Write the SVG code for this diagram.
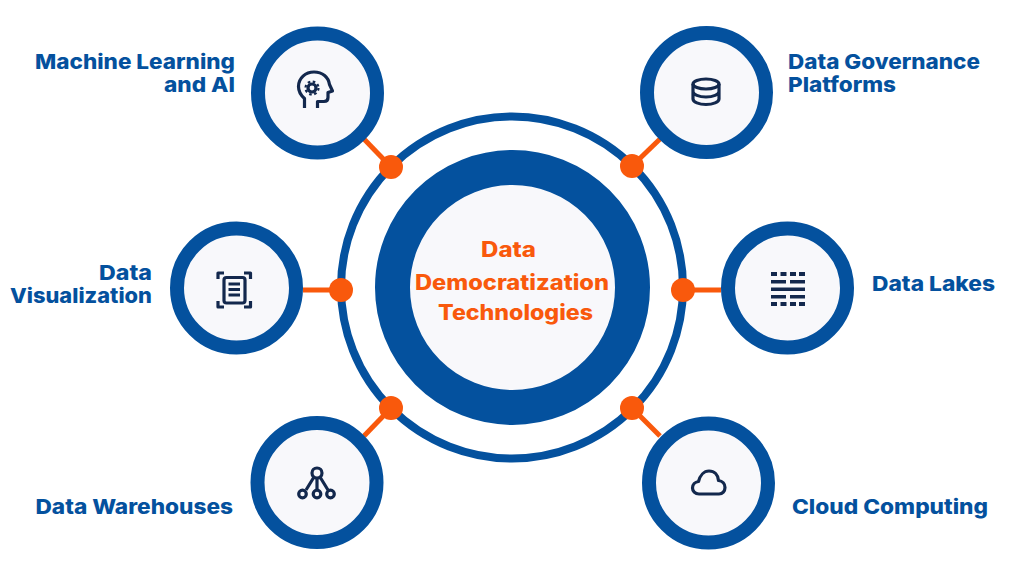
<svg xmlns="http://www.w3.org/2000/svg" width="1024" height="576" viewBox="0 0 1024 576">
<style>
.ring{fill:#f8f8fb;stroke:#04519e;stroke-width:14}
.lbl{font-family:"Inter","Liberation Sans",sans-serif;font-weight:800;font-size:20.500px;fill:#04519e}
.ctr{font-family:"Inter","Liberation Sans",sans-serif;font-weight:800;font-size:21px;fill:#f9590c}
.ic{fill:none;stroke:#13284d;stroke-width:3.200;stroke-linecap:butt;stroke-linejoin:round}
.icf{fill:#13284d}
.con{stroke:#f9590c;stroke-width:5;fill:none}
.dot{fill:#f9590c}
</style>
<rect width="1024" height="576" fill="#ffffff"/>
<g id="hub">
<circle cx="512" cy="287.500" r="171" fill="none" stroke="#04519e" stroke-width="8"/>
<circle cx="512.500" cy="287.500" r="120" fill="#f8f8fb" stroke="#04519e" stroke-width="35"/>
<text class="ctr" x="481" y="257" textLength="55" lengthAdjust="spacingAndGlyphs">Data</text>
<text class="ctr" x="415" y="290" textLength="194" lengthAdjust="spacingAndGlyphs">Democratization</text>
<text class="ctr" x="438" y="320" textLength="155" lengthAdjust="spacingAndGlyphs">Technologies</text>
</g>
<g id="connectors">
<path class="con" d="M391 167L364 139"/>
<path class="con" d="M632 166L660 139"/>
<path class="con" d="M341 290H303"/>
<path class="con" d="M683 290H721"/>
<path class="con" d="M391 408L364 436"/>
<path class="con" d="M632 408L660 436"/>
<circle class="dot" cx="391" cy="167" r="12"/>
<circle class="dot" cx="632" cy="166" r="12"/>
<circle class="dot" cx="341" cy="290" r="12"/>
<circle class="dot" cx="683" cy="290" r="12"/>
<circle class="dot" cx="391" cy="408" r="12"/>
<circle class="dot" cx="632" cy="408" r="12"/>
</g>
<g id="node-ml">
<circle class="ring" cx="317.500" cy="93" r="59.500"/>
<path class="ic" d="M304.500 108V98.500C300.500 95 298.500 91 298.500 86.500C298.500 78 305.500 72 314 72C322.500 72 328.500 77 329.500 84.500L332.500 91L328 92.500V97.500C328 100 326.500 101.500 324 101.500H317.500V108"/>
<circle class="ic" cx="312" cy="88" r="4"/>
<circle cx="312" cy="88" r="6.500" fill="none" stroke="#13284d" stroke-width="2.200" stroke-dasharray="2.600 2.500"/>
<text class="lbl" x="35" y="69" textLength="200" lengthAdjust="spacingAndGlyphs">Machine Learning</text>
<text class="lbl" x="164" y="92" textLength="71" lengthAdjust="spacingAndGlyphs">and AI</text>
</g>
<g id="node-viz">
<circle class="ring" cx="236.500" cy="288" r="59.500"/>
<path class="ic" d="M218 279V273H224M244 273H250.500V279M218 301V307H224M244 307H250.500V301"/>
<rect class="ic" x="224" y="277.500" width="21" height="25.500" rx="2.500"/>
<path class="ic" d="M228.500 284H240M228.500 289.500H240M228.500 295H240"/>
<text class="lbl" x="99" y="279.500" textLength="53" lengthAdjust="spacingAndGlyphs">Data</text>
<text class="lbl" x="10" y="302.500" textLength="142" lengthAdjust="spacingAndGlyphs">Visualization</text>
</g>
<g id="node-warehouses">
<circle class="ring" cx="317" cy="482.500" r="59.500"/>
<path class="ic" d="M317 478V490M314 477L306 490M320 477L328 490"/>
<circle class="ic" cx="317" cy="473" r="5"/>
<circle class="ic" cx="302.500" cy="494" r="3.800"/>
<circle class="ic" cx="317" cy="494" r="3.800"/>
<circle class="ic" cx="330.500" cy="494" r="3.800"/>
<text class="lbl" x="35.500" y="514" textLength="197.500" lengthAdjust="spacingAndGlyphs">Data Warehouses</text>
</g>
<g id="node-governance">
<circle class="ring" cx="706.500" cy="92.500" r="59.500"/>
<ellipse class="ic" cx="706" cy="84" rx="13" ry="5"/>
<path class="ic" d="M693 84V99C693 102 699 104.500 706 104.500C713 104.500 719 102 719 99V84M693 91.500C693 94.500 699 97 706 97C713 97 719 94.500 719 91.500"/>
<text class="lbl" x="788" y="69" textLength="192" lengthAdjust="spacingAndGlyphs">Data Governance</text>
<text class="lbl" x="788" y="92" textLength="108" lengthAdjust="spacingAndGlyphs">Platforms</text>
</g>
<g id="node-lakes">
<circle class="ring" cx="787.500" cy="288" r="59.500"/>
<g class="icf">
<rect x="771" y="272" width="6" height="4"/><rect x="780.500" y="272" width="6" height="4"/><rect x="790" y="272" width="6" height="4"/><rect x="799" y="272" width="6" height="4"/>
<rect x="771" y="280" width="15" height="3.500"/><rect x="790" y="280" width="15" height="3.500"/>
<rect x="771" y="287.500" width="34" height="3.500"/>
<rect x="771" y="295" width="15" height="3.500"/><rect x="790" y="295" width="15" height="3.500"/>
<rect x="771" y="302" width="6" height="4"/><rect x="780.500" y="302" width="6" height="4"/><rect x="790" y="302" width="6" height="4"/><rect x="799" y="302" width="6" height="4"/>
</g>
<text class="lbl" x="872" y="291" textLength="123" lengthAdjust="spacingAndGlyphs">Data Lakes</text>
</g>
<g id="node-cloud">
<circle class="ring" cx="708.500" cy="483" r="59.500"/>
<path class="ic" stroke-width="2.800" d="M699 494C695 494 692.500 491 692.500 488C692.500 484.500 695 482 698.500 481.500C700 475.500 704 471 709 471C714.500 471 718 475 718.500 480.500C722.500 481 725 484 725 487.500C725 491 722.500 494 719 494Z"/>
<text class="lbl" x="792" y="514" textLength="196" lengthAdjust="spacingAndGlyphs">Cloud Computing</text>
</g>
</svg>
